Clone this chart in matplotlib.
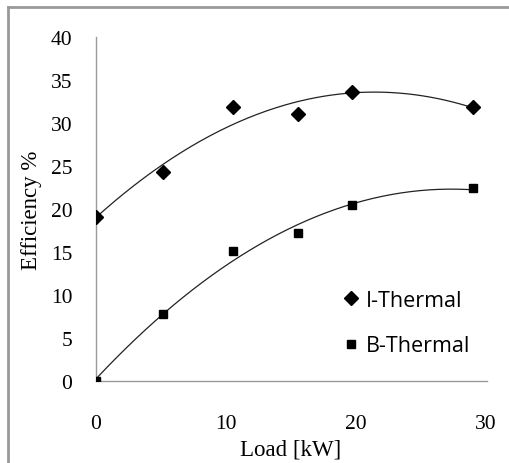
import numpy as np
import matplotlib
matplotlib.use("Agg")
import matplotlib.pyplot as plt
from matplotlib.lines import Line2D

load_i = [0, 5.15, 10.55, 15.5, 19.7, 29.0]
eff_i = [19.1, 24.3, 31.9, 31.0, 33.6, 31.9]
load_b = [0, 5.15, 10.55, 15.5, 19.7, 29.0]
eff_b = [0.0, 7.8, 15.1, 17.2, 20.5, 22.4]
series_names = ["I-Thermal", "B-Thermal"]
x_ticks = [0, 10, 20, 30]
y_ticks = [0, 5, 10, 15, 20, 25, 30, 35, 40]

W, H = 509, 464
fig = plt.figure(figsize=(W / 100, H / 100), dpi=100)
ax = fig.add_axes([96 / W, 1 - 382 / H, (486 - 96) / W, (382 - 38) / H])

serif = "Liberation Serif"
sans = "Open Sans"

for xs, ys, mk, ms in [(load_i, eff_i, "D", 7.5), (load_b, eff_b, "s", 6)]:
    xs = np.array(xs); ys = np.array(ys)
    c = np.polyfit(xs, ys, 2)
    xx = np.linspace(xs.min(), xs.max(), 200)
    ax.plot(xx, np.polyval(c, xx), color="#222222", lw=0.9, zorder=2)
    ax.plot(xs, ys, linestyle="none", marker=mk, ms=ms, color="black", zorder=3)

ax.set_xlim(0, 30)
ax.set_ylim(0, 40)
ax.set_xticks(x_ticks)
ax.set_yticks(y_ticks)
ax.tick_params(length=0, labelsize=15.5)
ax.tick_params(axis="y", pad=17)
ax.tick_params(axis="x", pad=24)
for lab in ax.get_xticklabels() + ax.get_yticklabels():
    lab.set_fontfamily(serif)
for s in ["top", "right"]:
    ax.spines[s].set_visible(False)
for s in ["left", "bottom"]:
    ax.spines[s].set_color("#999999")
    ax.spines[s].set_linewidth(1.0)
ax.spines["bottom"].set_bounds(0, 30.1)

ax.set_xlabel("Load [kW]", fontfamily=serif, fontsize=16.5, labelpad=4)
ax.set_ylabel("Efficiency %", fontfamily=serif, fontsize=16.5, labelpad=6)

handles = [Line2D([], [], linestyle="none", marker="D", ms=7.5, color="black"),
           Line2D([], [], linestyle="none", marker="s", ms=6, color="black")]
leg = fig.legend(handles, series_names, loc="upper left",
                 bbox_to_anchor=(336 / W, 1 - 282 / H), frameon=False,
                 prop={"family": sans, "size": 15.5}, handlelength=0.6,
                 handletextpad=0.4, labelspacing=1.15, borderaxespad=0)

# outer frame (top and left edges visible)
fig.add_artist(Line2D([8 / W, 8 / W], [0, 1 - 8 / H], color="#999999", lw=2, transform=fig.transFigure))
fig.add_artist(Line2D([8 / W, 1], [1 - 8 / H, 1 - 8 / H], color="#999999", lw=2, transform=fig.transFigure))

fig.savefig("out.png", dpi=100)
